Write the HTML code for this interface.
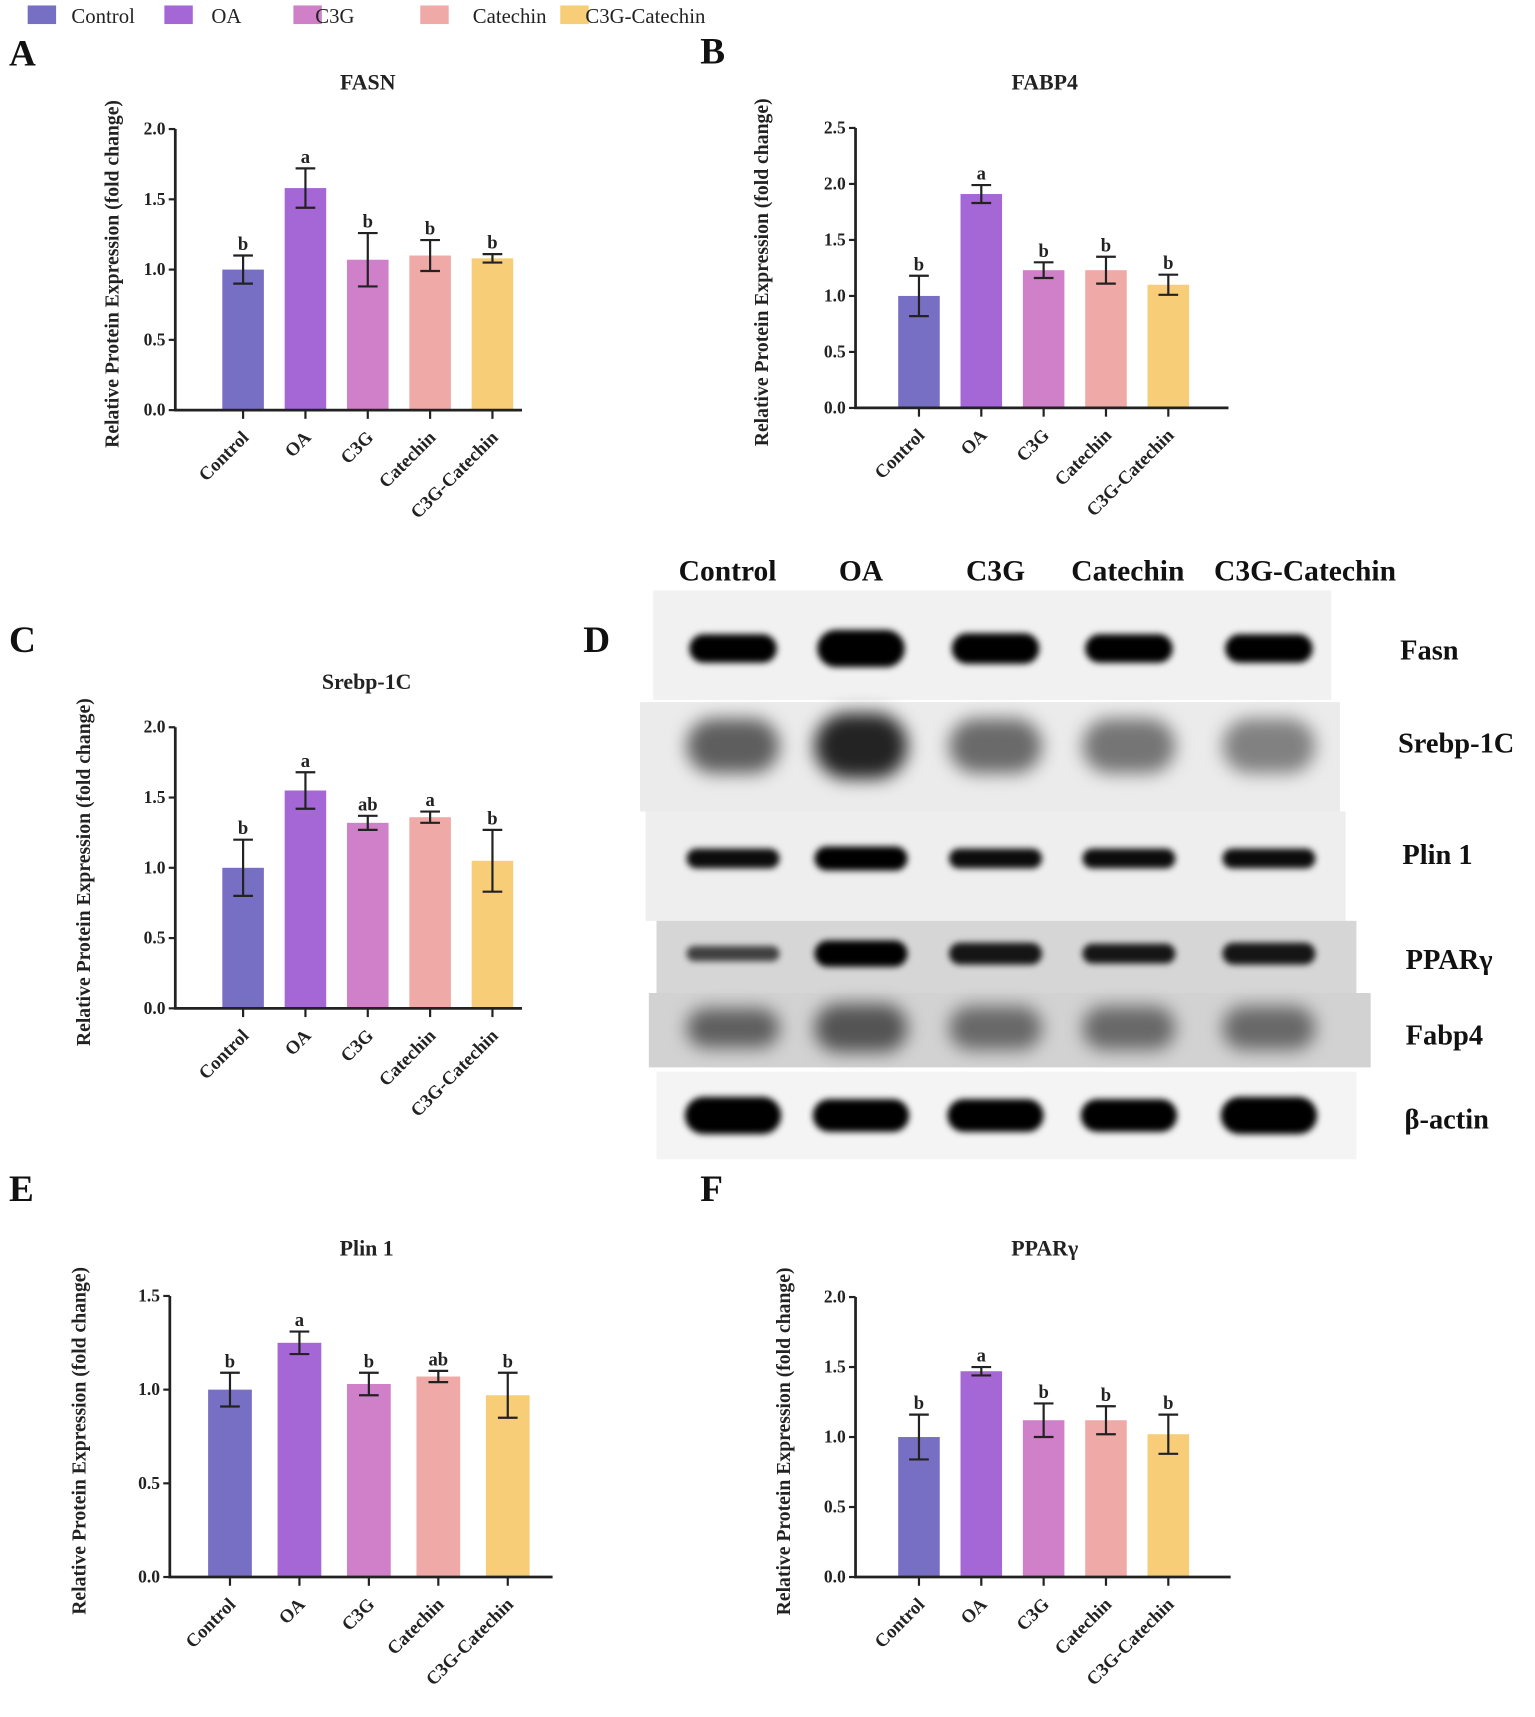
<!DOCTYPE html>
<html><head><meta charset="utf-8">
<style>
html,body{margin:0;padding:0;background:#fff;}
svg{display:block;font-family:"Liberation Serif",serif;font-weight:bold;}
svg text{font-family:"Liberation Serif",serif;}
</style></head>
<body>
<svg id="fig" width="1535" height="1717" viewBox="0 0 1403 1570" xmlns="http://www.w3.org/2000/svg">
<defs>
<filter id="blur3" x="-30%" y="-100%" width="160%" height="300%"><feGaussianBlur stdDeviation="3"/></filter>
<filter id="blur8" x="-30%" y="-100%" width="160%" height="300%"><feGaussianBlur stdDeviation="8"/></filter>
</defs>
<g id="legend"></g>
<g id="charts"></g>
<g id="blot"></g>
</svg>
<script>
const NS="http://www.w3.org/2000/svg";
const categories=["Control","OA","C3G","Catechin","C3G-Catechin"];
const colors=["#776fc3","#a567d6","#d07fc9","#efa9a7","#f7cd78"];

const fasnValues=[1.0,1.58,1.07,1.10,1.08];
const fasnErrors=[0.10,0.14,0.19,0.11,0.03];
const fasnLetters=["b","a","b","b","b"];
const fasnTicks=[0,0.5,1.0,1.5,2.0];

const fabp4Values=[1.0,1.91,1.23,1.23,1.10];
const fabp4Errors=[0.18,0.08,0.07,0.12,0.09];
const fabp4Letters=["b","a","b","b","b"];
const fabp4Ticks=[0,0.5,1.0,1.5,2.0,2.5];

const srebpValues=[1.0,1.55,1.32,1.36,1.05];
const srebpErrors=[0.20,0.13,0.05,0.04,0.22];
const srebpLetters=["b","a","ab","a","b"];
const srebpTicks=[0,0.5,1.0,1.5,2.0];

const plinValues=[1.0,1.25,1.03,1.07,0.97];
const plinErrors=[0.09,0.06,0.06,0.03,0.12];
const plinLetters=["b","a","b","ab","b"];
const plinTicks=[0,0.5,1.0,1.5];

const pparValues=[1.0,1.47,1.12,1.12,1.02];
const pparErrors=[0.16,0.03,0.12,0.10,0.14];
const pparLetters=["b","a","b","b","b"];
const pparTicks=[0,0.5,1.0,1.5,2.0];

function el(tag,attrs,parent,text){
  const e=document.createElementNS(NS,tag);
  for(const k in attrs)e.setAttribute(k,attrs[k]);
  if(text!==undefined)e.textContent=text;
  parent.appendChild(e);return e;
}

const legend=document.getElementById("legend");
const legSq=[25,150,268,384,512];
const legTx=[65,193,288,432,535];
categories.forEach((c,i)=>{
  const r=el("rect",{x:legSq[i],y:5,width:26,height:17,fill:colors[i]},legend);
  
  
  const t=el("text",{x:legTx[i],y:21,"font-size":19,"font-weight":"normal","font-family":"Liberation Serif, serif",fill:"#222"},legend,c);
  
  
});

const charts=document.getElementById("charts");
[["A",8,60],["B",640,58],["C",8,596],["D",533,596],["E",8,1098],["F",640,1098]].forEach(p=>{
  const t=el("text",{x:p[1],y:p[2],"font-size":34,fill:"#111"},charts,p[0]);
  
  
});

function chart(o){
  const g=el("g",{},charts);
  
  
  const ymax=o.ticks[o.ticks.length-1];
  const ys=v=>o.y0-(v/ymax)*(o.y0-o.ytop);
  const xs=i=>o.x0+o.first+i*o.step;
  const t=el("text",{x:o.tx,y:o.ty,"font-size":20,"text-anchor":"middle",fill:"#222"},g,o.title);
  
  
  const yl=el("text",{x:0,y:0,"font-size":18,"text-anchor":"middle",fill:"#222",transform:`translate(${o.ylx},${(o.y0+o.ytop)/2+4}) rotate(-90)`},g,"Relative Protein Expression (fold change)");
  
  
  o.values.forEach((v,i)=>{
    const cx=xs(i);
    const b=el("rect",{x:cx-o.bw/2,y:ys(v),width:o.bw,height:o.y0-ys(v),fill:colors[i]},g);
    
    
    const e=o.errors[i];
    const eb=el("path",{d:`M${cx},${ys(v+e)}V${ys(v-e)}M${cx-9},${ys(v+e)}H${cx+9}M${cx-9},${ys(v-e)}H${cx+9}`,stroke:"#222","stroke-width":2,fill:"none"},g);
    
    
    const lt=el("text",{x:cx,y:ys(v+e)-5,"font-size":17,"text-anchor":"middle",fill:"#222"},g,o.letters[i]);
    
    
    const tk=el("line",{x1:cx,x2:cx,y1:o.y0,y2:o.y0+8,stroke:"#222","stroke-width":2},g);
    
    
    const xl=el("text",{x:0,y:0,"font-size":17,"text-anchor":"end",fill:"#222",transform:`translate(${cx+6},${o.y0+26}) rotate(-45)`},g,categories[i]);
    
    
  });
  const ax=el("path",{d:`M${o.x0},${o.ytop}V${o.y0}H${o.xend}`,stroke:"#222","stroke-width":2.5,fill:"none"},g);
  
  
  o.ticks.forEach(v=>{
    const tk=el("line",{x1:o.x0-6,x2:o.x0,y1:ys(v),y2:ys(v),stroke:"#222","stroke-width":2},g);
    
    
    const tl=el("text",{x:o.x0-9,y:ys(v)+5,"font-size":16,"text-anchor":"end",fill:"#222"},g,v.toFixed(1));
    
    
  });
}

chart({name:"chart-fasn",title:"FASN",tx:336,ty:82,ylx:108,x0:160,xend:477,y0:375,ytop:118,first:62,step:57,bw:38,ticks:fasnTicks,values:fasnValues,errors:fasnErrors,letters:fasnLetters});
chart({name:"chart-fabp4",title:"FABP4",tx:955,ty:82,ylx:702,x0:782,xend:1123,y0:373,ytop:117,first:58,step:57,bw:38,ticks:fabp4Ticks,values:fabp4Values,errors:fabp4Errors,letters:fabp4Letters});
chart({name:"chart-srebp-1c",title:"Srebp-1C",tx:335,ty:630,ylx:82,x0:160,xend:477,y0:922,ytop:665,first:62,step:57,bw:38,ticks:srebpTicks,values:srebpValues,errors:srebpErrors,letters:srebpLetters});
chart({name:"chart-plin1",title:"Plin 1",tx:335,ty:1148,ylx:78,x0:155,xend:505,y0:1442,ytop:1185,first:55,step:63.5,bw:40,ticks:plinTicks,values:plinValues,errors:plinErrors,letters:plinLetters});
chart({name:"chart-ppar-gamma",title:"PPARγ",tx:955,ty:1148,ylx:722,x0:782,xend:1125,y0:1442,ytop:1186,first:58,step:57,bw:38,ticks:pparTicks,values:pparValues,errors:pparErrors,letters:pparLetters});

const blot=document.getElementById("blot");
const laneX=[670,787,910,1032,1160];
const laneLbl=[665,787,910,1031,1193];
categories.forEach((c,i)=>{
  const t=el("text",{x:laneLbl[i],y:531,"font-size":27,"text-anchor":"middle",fill:"#111"},blot,c);
  
  
});
const rows=[
 {n:"Fasn",y:593,bg:[597,540,620,100,"#f1f1f1"],h:[26,34,28,26,26],w:80,dark:[1,1,1,1,1],blur:"blur3"},
 {n:"Srebp-1C",y:682,bg:[585,642,640,100,"#ebebeb"],h:[50,60,50,50,50],w:85,dark:[0.6,0.85,0.55,0.5,0.45],blur:"blur8"},
 {n:"Plin 1",y:785,bg:[590,742,640,100,"#eeeeee"],h:[18,22,18,18,18],w:85,dark:[0.95,1,0.95,0.95,0.95],blur:"blur3"},
 {n:"PPARγ",y:872,bg:[600,842,640,66,"#d6d6d6"],h:[14,24,20,18,20],w:85,dark:[0.7,1,0.9,0.9,0.9],blur:"blur3"},
 {n:"Fabp4",y:940,bg:[593,908,660,68,"#d2d2d2"],h:[36,44,40,40,40],w:85,dark:[0.55,0.6,0.5,0.5,0.5],blur:"blur8"},
 {n:"β-actin",y:1020,bg:[600,980,640,80,"#f4f4f4"],h:[34,30,30,30,34],w:88,dark:[1,1,1,1,1],blur:"blur3"}
];
const rowLbl=[[1280,603],[1278,688],[1282,790],[1285,886],[1285,955],[1284,1032]];
rows.forEach((r,ri)=>{
  const bg=el("rect",{x:r.bg[0],y:r.bg[1],width:r.bg[2],height:r.bg[3],fill:r.bg[4]},blot);
  
  
  laneX.forEach((x,i)=>{
    const b=el("rect",{x:x-r.w/2,y:r.y-r.h[i]/2,width:r.w,height:r.h[i],rx:r.h[i]/2,fill:"#000","fill-opacity":r.dark[i],filter:`url(#${r.blur})`},blot);
    
    
  });
  const t=el("text",{x:rowLbl[ri][0],y:rowLbl[ri][1],"font-size":26,fill:"#111"},blot,r.n);
  
  
});
</script>
</body></html>
